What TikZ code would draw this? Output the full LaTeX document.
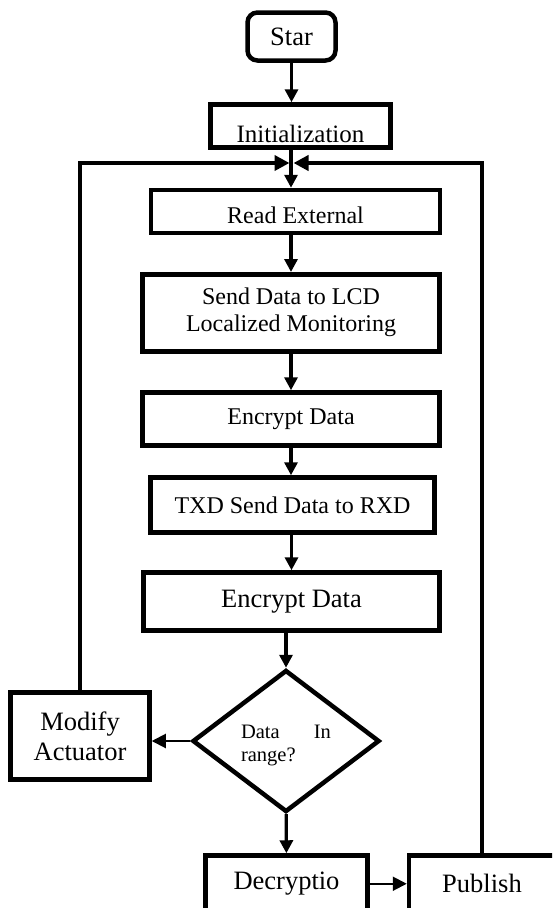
\documentclass[tikz,border=0pt]{standalone}
\usepackage{fontspec}
\setmainfont{Liberation Serif}
\usetikzlibrary{shapes.geometric,arrows.meta}

\begin{document}
\begin{tikzpicture}[x=1pt, y=-1pt,
    box/.style={draw, line width=4.5pt, inner sep=0pt, align=center, font=\fontsize{24}{27}\selectfont},
    bigbox/.style={box, font=\fontsize{26.5}{30}\selectfont},
    flow/.style={line width=3.3pt, -{Triangle[length=13pt,width=13pt]}},
    back/.style={line width=4.5pt, -{Triangle[length=15pt,width=15pt]}},
    side/.style={line width=2pt, -{Triangle[length=14pt,width=14pt]}}]

    \useasboundingbox (0,0) rectangle (552,908);
    \clip (0,0) rectangle (552,908);

    % Main column
    \node[bigbox, rounded corners=10pt, minimum width=88pt, minimum height=48pt] (start) at (291.5,36.5) {Star};
    \node[box, font=\fontsize{25}{28}\selectfont, minimum width=180pt, minimum height=43pt, text height=33pt, text depth=0pt] (init) at (300.5,126) {Initialization};
    \node[box, minimum width=289pt, minimum height=43pt, text height=23pt, text depth=0pt] (read) at (295.5,211.5) {Read External};
    \node[box, minimum width=297pt, minimum height=77pt] (send) at (291,312.75) {Send Data to LCD\\Localized Monitoring};
    \node[box, minimum width=297pt, minimum height=53pt] (enc1) at (291,419) {Encrypt Data};
    \node[box, minimum width=284pt, minimum height=55pt] (txd) at (292.5,505) {TXD Send Data to RXD};
    \node[bigbox, minimum width=296pt, minimum height=58pt] (enc2) at (291.5,601.5) {Encrypt Data};

    % Decision and its branches
    \node[draw, diamond, line width=4.5pt, inner sep=0pt, minimum width=187pt, minimum height=142pt,
          text width=90pt, text height=15pt, text depth=21pt, align=left,
          font=\fontsize{20.5}{23}\selectfont] (check) at (286,741) {Data\hfill In\\range?};
    \node[bigbox, minimum width=139pt, minimum height=87pt] (act) at (80,736) {Modify\\Actuator};
    \node[bigbox, minimum width=162pt, minimum height=56.5pt] (dcr) at (286.5,883.75) {Decryptio};
    \node[bigbox, minimum width=146pt, minimum height=56.5pt] (pub) at (482,883.75) {Publish};

    % Where both return lines meet
    \coordinate (merge) at (291,163);

    % Arrows down the column
    \draw[flow] (start.south) -- (start.south |- init.north);
    \draw[flow] (init.south -| merge) -- (merge |- read.north);
    \draw[flow] (read.south -| send.north) -- (send.north);
    \draw[flow] (send) -- (enc1);
    \draw[flow] (enc1) -- (enc1 |- txd.north);
    \draw[flow] (txd.south -| enc2.north) -- (enc2.north);
    \draw[flow] (enc2.south -| check.north) -- (check.north);
    \draw[flow] (check) -- (dcr);
    \draw[side] (check.west) -- (check.west -| act.east);
    \draw[side] (dcr.east) -- (pub.west);

    % Return lines
    \draw[back] (act.north) |- ([xshift=-1.5pt]merge);
    \draw[back] (pub.north) |- ([xshift=2.5pt]merge);

\end{tikzpicture}
\end{document}
